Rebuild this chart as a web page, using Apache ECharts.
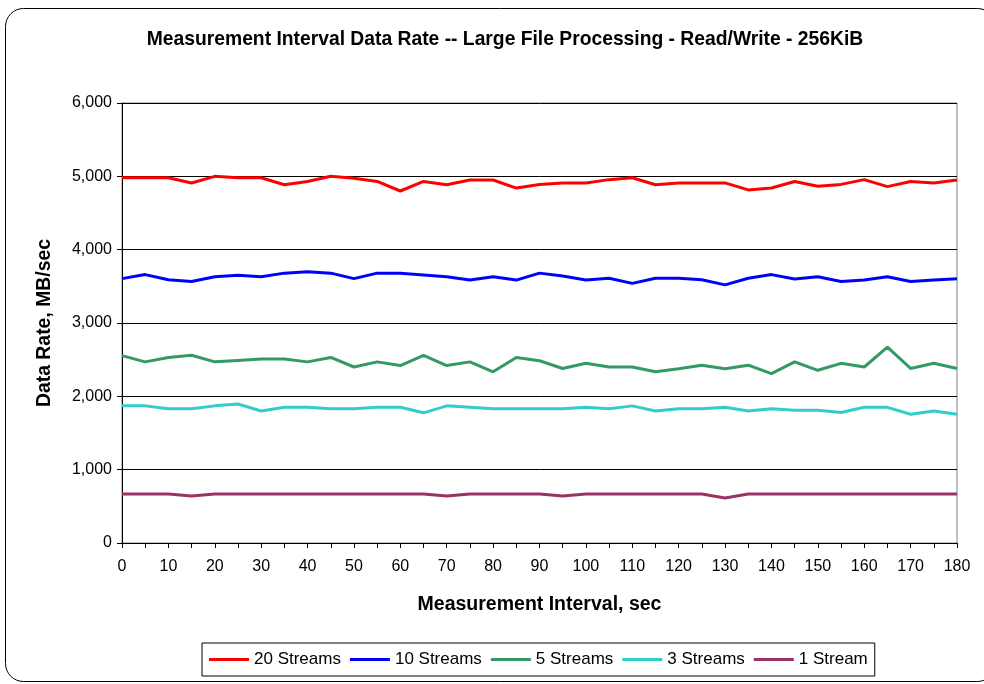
<!DOCTYPE html>
<html>
<head>
<meta charset="utf-8">
<script src="https://cdn.jsdelivr.net/npm/echarts@6/dist/echarts.min.js"></script>
<style>
  html, body { margin: 0; padding: 0; background: #fff; }
  #main { width: 984px; height: 684px; }
</style>
</head>
<body>
<div id="main"></div>
<script>
var chartDom = document.getElementById('main');
var myChart = echarts.init(chartDom);
var option;

var seconds = ['0', '5', '10', '15', '20', '25', '30', '35', '40', '45', '50', '55', '60', '65', '70', '75', '80', '85', '90',
               '95', '100', '105', '110', '115', '120', '125', '130', '135', '140', '145', '150', '155', '160', '165', '170', '175', '180'];

var streams20 = [4980, 4980, 4980, 4910, 5000, 4980, 4980, 4885, 4930, 5000, 4975, 4930, 4800, 4930, 4885, 4950, 4950, 4840, 4890,
                 4910, 4910, 4955, 4980, 4885, 4910, 4910, 4910, 4815, 4840, 4930, 4865, 4890, 4955, 4860, 4930, 4910, 4950];
var streams10 = [3605, 3660, 3590, 3565, 3630, 3650, 3630, 3680, 3700, 3680, 3605, 3680, 3680, 3655, 3630, 3585, 3630, 3585, 3680,
                 3640, 3585, 3610, 3540, 3610, 3610, 3590, 3520, 3610, 3660, 3600, 3630, 3565, 3585, 3630, 3565, 3585, 3605];
var streams5 = [2555, 2470, 2530, 2560, 2470, 2490, 2510, 2510, 2470, 2530, 2400, 2470, 2420, 2560, 2420, 2470, 2335, 2530, 2485,
                2380, 2450, 2400, 2400, 2335, 2375, 2425, 2375, 2425, 2310, 2470, 2355, 2450, 2400, 2670, 2380, 2450, 2380];
var streams3 = [1870, 1870, 1830, 1830, 1870, 1895, 1800, 1850, 1850, 1830, 1830, 1850, 1850, 1775, 1870, 1850, 1830, 1830, 1830,
                1830, 1850, 1830, 1870, 1800, 1830, 1830, 1850, 1800, 1830, 1810, 1810, 1780, 1850, 1850, 1755, 1800, 1755];
var stream1 = [668, 668, 668, 641, 668, 668, 668, 668, 668, 668, 668, 668, 668, 668, 640, 668, 668, 668, 668,
               640, 668, 668, 668, 668, 668, 668, 614, 668, 668, 668, 668, 668, 668, 668, 668, 668, 668];

var seriesNames = ['20 Streams', '10 Streams', '5 Streams', '3 Streams', '1 Stream'];
var seriesColors = ['#ff0000', '#0000ff', '#339966', '#33cccc', '#993366'];
var seriesData = [streams20, streams10, streams5, streams3, stream1];

var fontFamily = '"Liberation Sans", Arial, sans-serif';

option = {
    backgroundColor: '#ffffff',
    animation: false,
    textStyle: { fontFamily: fontFamily },
    title: {
        text: 'Measurement Interval Data Rate -- Large File Processing - Read/Write - 256KiB',
        left: 500,
        textAlign: 'center',
        top: 25,
        textStyle: { fontSize: 19.3, fontWeight: 'bold', color: '#000', fontFamily: fontFamily }
    },
    graphic: [
        {
            type: 'rect',
            shape: { x: 5.5, y: 8.5, width: 990, height: 673, r: 18 },
            style: { fill: 'none', stroke: '#000', lineWidth: 1 },
            silent: true
        }
    ],
    legend: {
        data: seriesNames,
        left: 202,
        top: 643,
        icon: 'rect',
        itemWidth: 40,
        itemHeight: 3,
        itemGap: 9,
        padding: [8, 7, 8, 7],
        borderColor: '#000',
        borderWidth: 1,
        textStyle: { fontSize: 17, color: '#000', fontFamily: fontFamily }
    },
    grid: {
        left: 122,
        right: 27,
        top: 103,
        bottom: 141,
        show: true,
        borderColor: '#808080',
        borderWidth: 1
    },
    xAxis: {
        type: 'category',
        data: seconds,
        boundaryGap: false,
        name: 'Measurement Interval, sec',
        nameLocation: 'middle',
        nameGap: 52,
        nameTextStyle: { fontSize: 19.5, fontWeight: 'bold', color: '#000' },
        axisLine: { lineStyle: { color: '#000', width: 1 } },
        axisTick: { show: true, interval: 0, length: 5, lineStyle: { color: '#000' } },
        axisLabel: { interval: 1, fontSize: 16, color: '#000', margin: 16 },
        splitLine: { show: false }
    },
    yAxis: {
        type: 'value',
        min: 0,
        max: 6000,
        interval: 1000,
        name: 'Data Rate, MB/sec',
        nameLocation: 'middle',
        nameGap: 68,
        nameTextStyle: { fontSize: 19.4, fontWeight: 'bold', color: '#000' },
        axisLine: { show: true, lineStyle: { color: '#000', width: 1 } },
        axisTick: { show: true, length: 5, lineStyle: { color: '#000' } },
        axisLabel: {
            fontSize: 16,
            color: '#000',
            margin: 10,
            formatter: function (v) {
                return String(v).replace(/(\d)(?=(\d{3})+$)/g, '$1,');
            }
        },
        splitLine: { show: true, lineStyle: { color: '#000', width: 1 } }
    },
    series: seriesNames.map(function (name, i) {
        return {
            name: name,
            type: 'line',
            data: seriesData[i],
            symbol: 'none',
            color: seriesColors[i],
            lineStyle: { width: 3, color: seriesColors[i] }
        };
    })
};

option && myChart.setOption(option);
</script>
</body>
</html>
